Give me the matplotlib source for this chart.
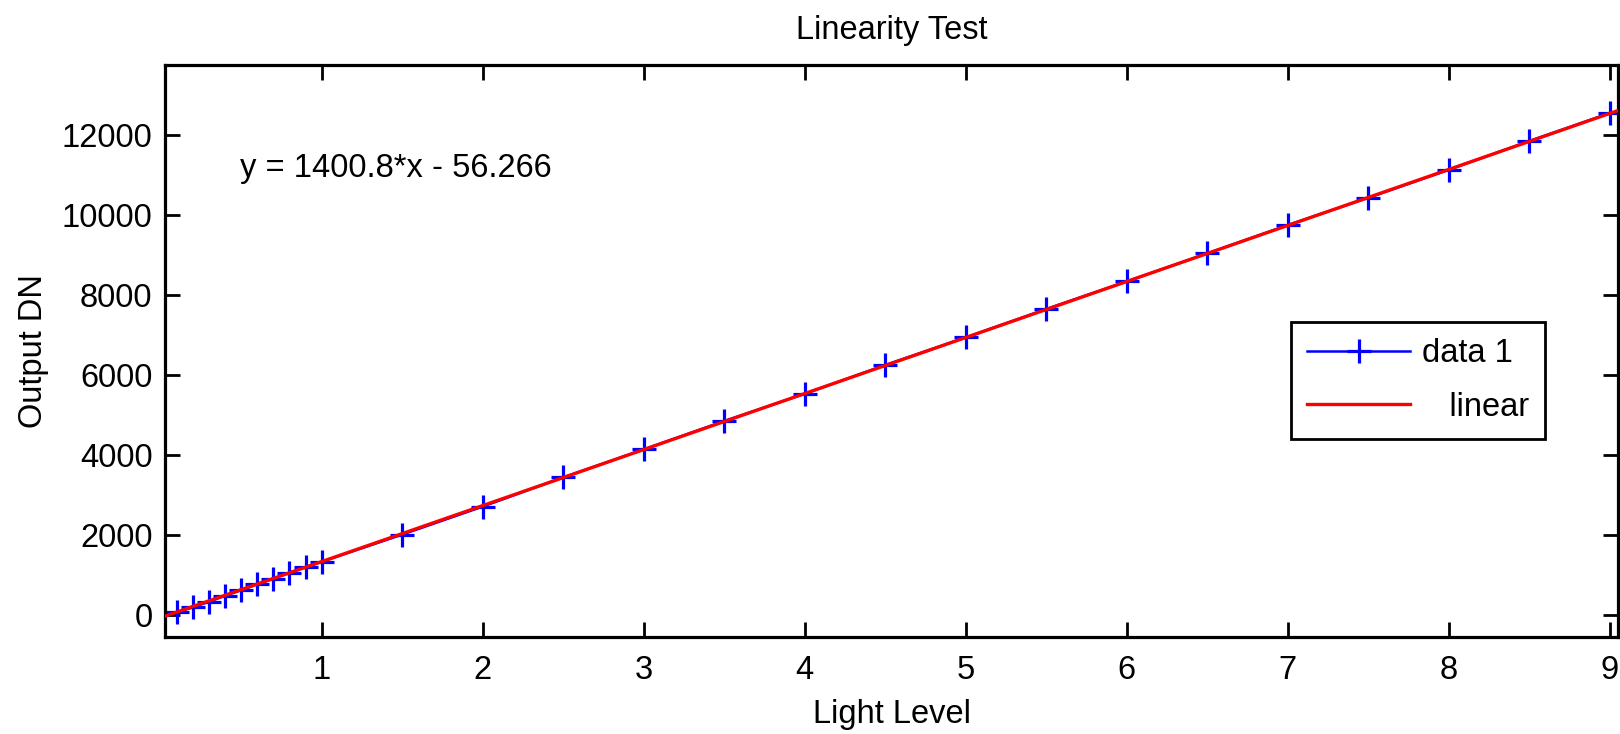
import numpy as np
import matplotlib
matplotlib.use("Agg")
import matplotlib.pyplot as plt

plt.rcParams['font.family'] = ['Liberation Sans', 'DejaVu Sans']

# Data
light_level = [0.1, 0.2, 0.3, 0.4, 0.5, 0.6, 0.7, 0.8, 0.9, 1.0,
               1.5, 2.0, 2.5, 3.0, 3.5, 4.0, 4.5, 5.0, 5.5, 6.0,
               6.5, 7.0, 7.5, 8.0, 8.5, 9.0]
output_dn = [80, 200, 340, 490, 630, 780, 920, 1070, 1210, 1340,
             2020, 2720, 3450, 4150, 4860, 5540, 6260, 6950, 7660, 8350,
             9050, 9760, 10440, 11140, 11860, 12560]
fit_slope = 1400.8
fit_intercept = -56.266
x_ticks = [1, 2, 3, 4, 5, 6, 7, 8, 9]
y_ticks = [0, 2000, 4000, 6000, 8000, 10000, 12000]
xlim = (0.027, 9.05)
ylim = (-540, 13760)

W, H = 1620, 734
fig = plt.figure(figsize=(W / 100, H / 100), dpi=100)
ax = fig.add_axes([165 / W, 1 - 637 / H, (1618 - 165) / W, (637 - 65) / H])

fs = 23.5

ax.plot(light_level, output_dn, color='#0000ff', lw=1.8, marker='+',
        markersize=17, markeredgewidth=2.3, label='data 1', zorder=2)
xf = np.linspace(xlim[0], xlim[1], 200)
ax.plot(xf, fit_slope * xf + fit_intercept, color='#ff0000', lw=2.4,
        label='   linear', zorder=3)

ax.set_xlim(*xlim)
ax.set_ylim(*ylim)
ax.set_xticks(x_ticks)
ax.set_yticks(y_ticks)
ax.tick_params(direction='in', length=11, width=2, top=True, right=True,
               labelsize=fs, colors='black')
ax.tick_params(axis='x', pad=13)
ax.tick_params(axis='y', pad=9)
for s in ax.spines.values():
    s.set_linewidth(2.3)
    s.set_color('black')

ax.set_title('Linearity Test', fontsize=fs, pad=19)
ax.set_xlabel('Light Level', fontsize=fs, labelpad=9)
ax.set_ylabel('Output DN', fontsize=fs, labelpad=9.5)

ax.text(240 / W, 1 - 177 / H, 'y = 1400.8*x - 56.266', fontsize=fs,
        transform=fig.transFigure, ha='left', va='baseline')

leg = ax.legend(loc='upper left', bbox_to_anchor=(1291 / W, 1 - 322 / H),
                bbox_transform=fig.transFigure, fontsize=fs, frameon=True,
                fancybox=False, shadow=False, framealpha=1, edgecolor='black',
                handlelength=3.15, handletextpad=0.36, labelspacing=0.68,
                borderpad=0.5, borderaxespad=0, numpoints=1)
leg.get_frame().set_linewidth(2.0)

fig.savefig('out.png', dpi=100, facecolor='white')
